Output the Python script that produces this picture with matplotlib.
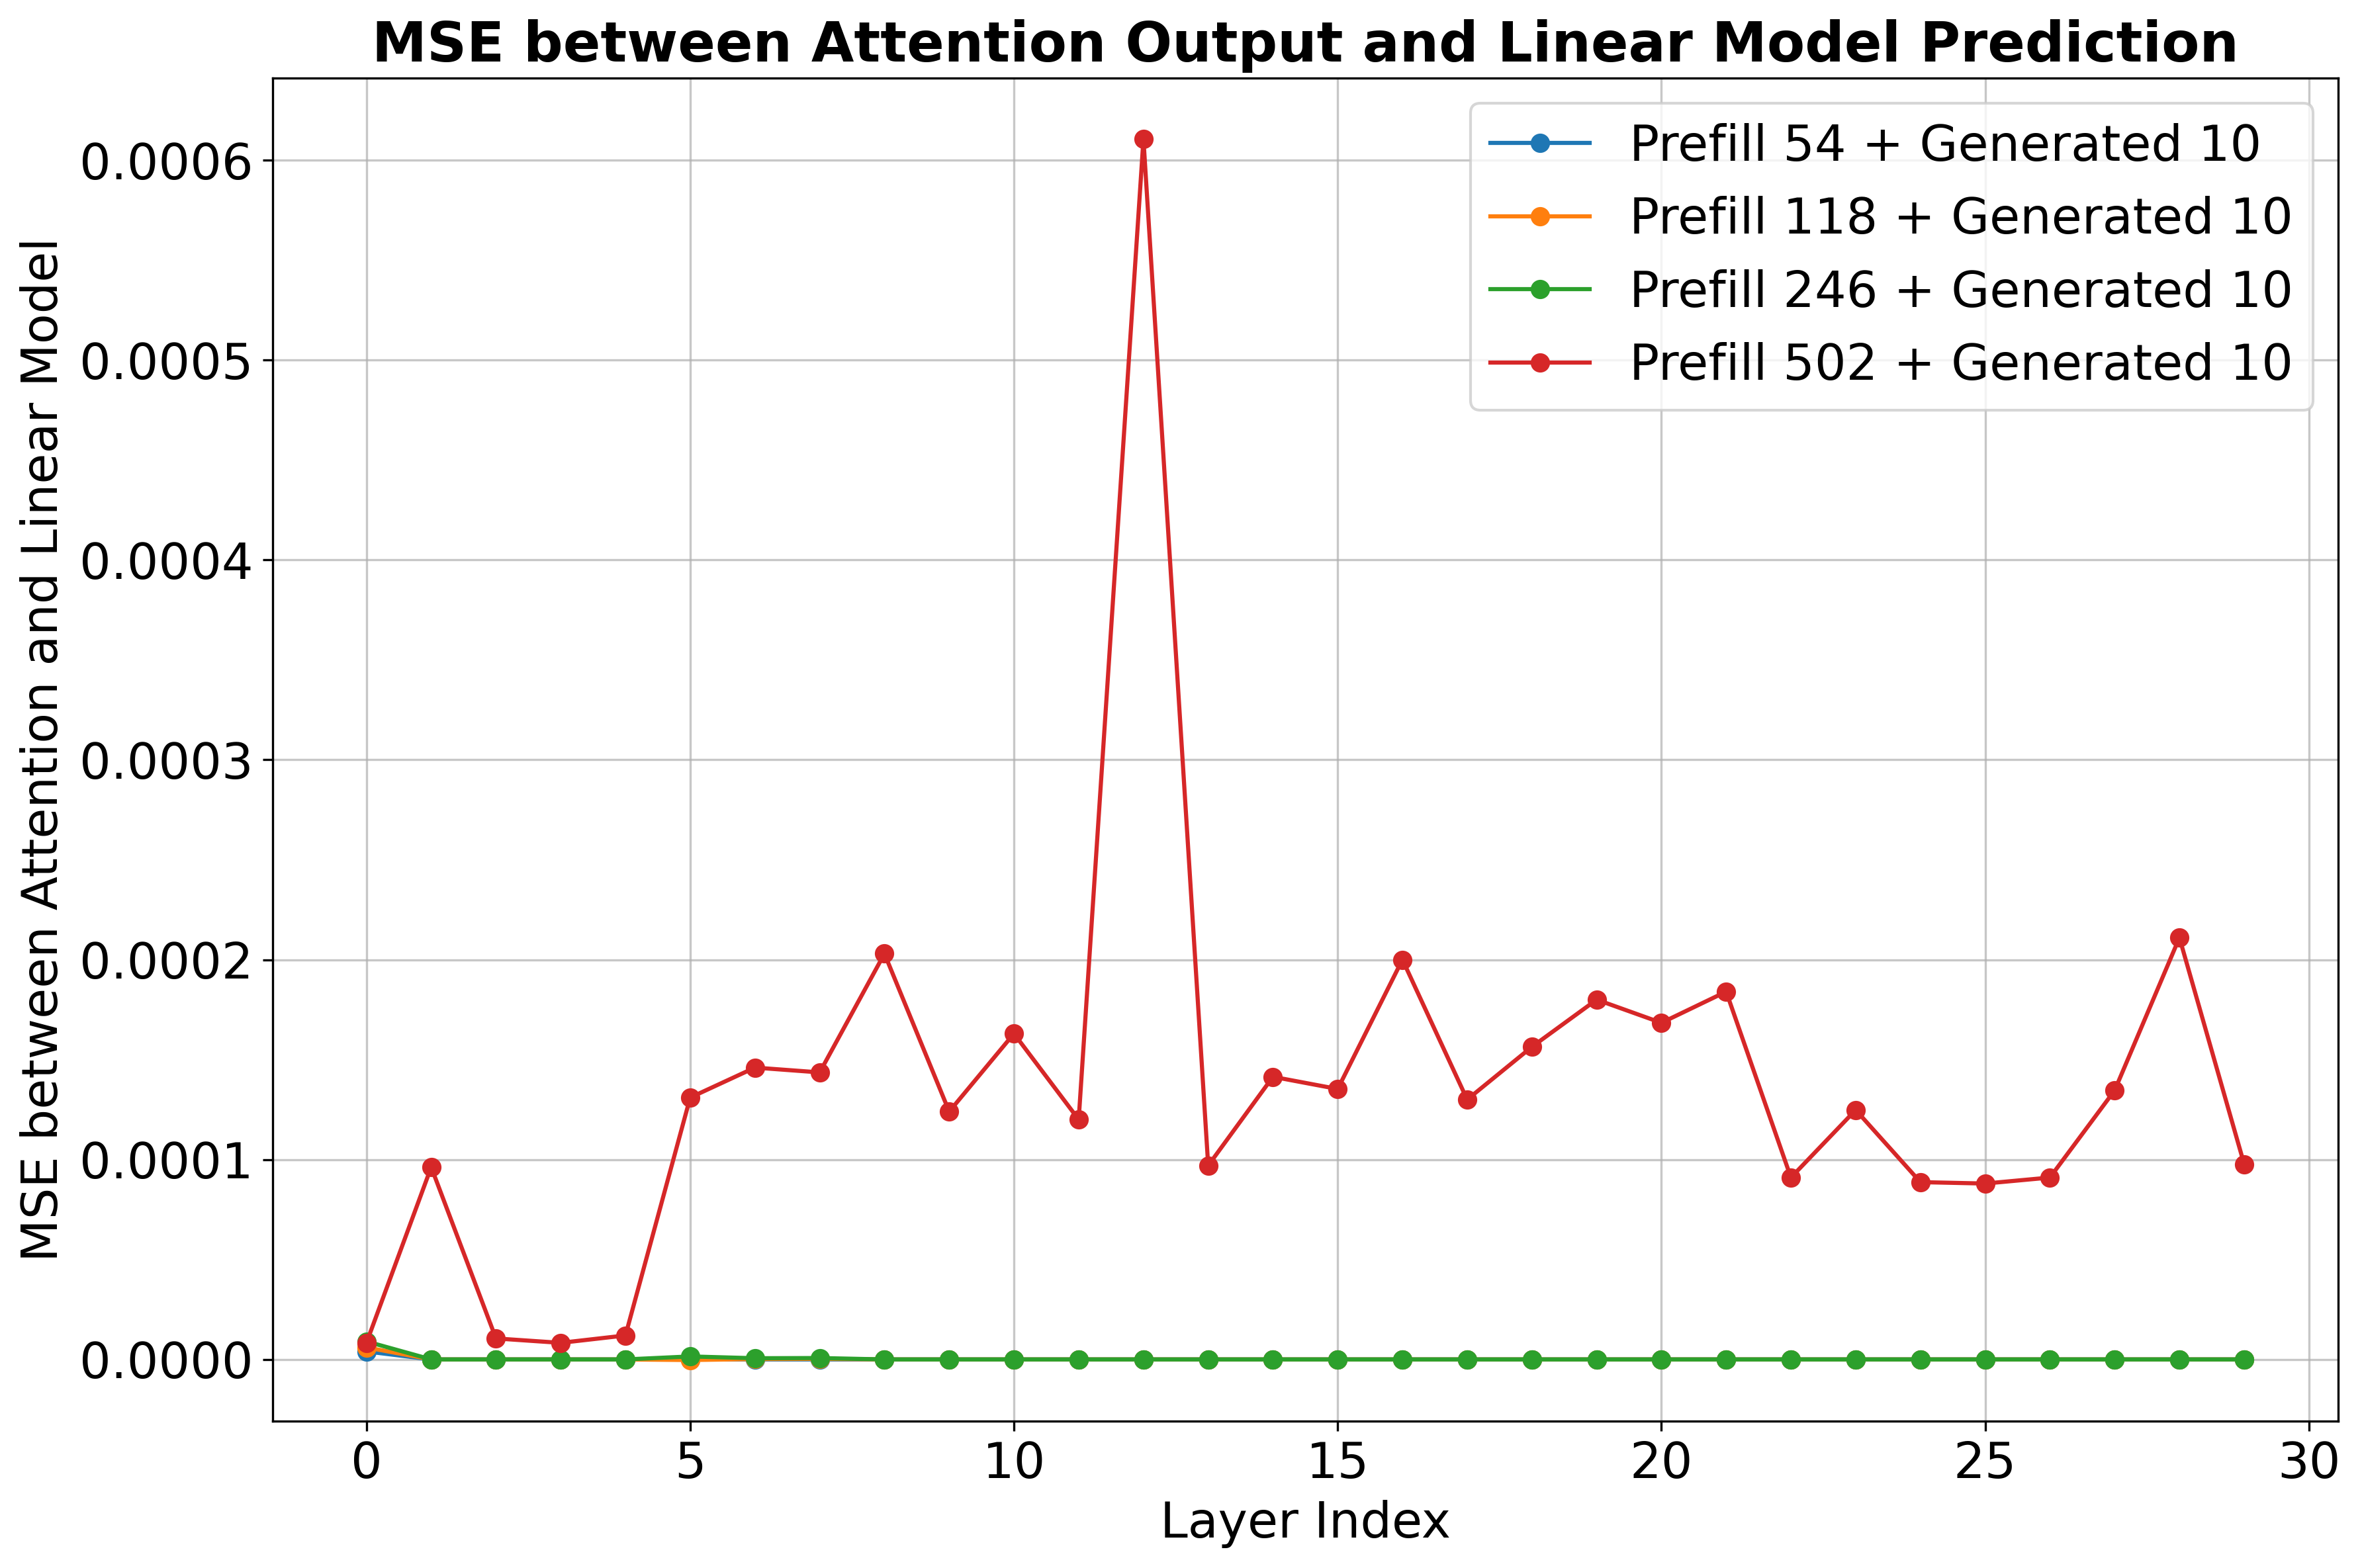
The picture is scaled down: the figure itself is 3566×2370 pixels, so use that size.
import numpy as np
import matplotlib.pyplot as plt

layers = list(range(30))

# MSE per layer for each prefill length
mse_54 = [0.0000040] + [0.0] * 29
mse_118 = [0.0000060, 0.0, 0.0, 0.0, 0.0, -0.0000003, 0.0000002, 0.0000003] + [0.0] * 22
mse_246 = [0.0000090, 0.0, 0.0, 0.0, 0.0, 0.0000015, 0.0000006, 0.0000007] + [0.0] * 22
mse_502 = [0.0000083, 0.0000962, 0.0000105, 0.0000083, 0.0000120, 0.000131,
           0.000146, 0.0001436, 0.000203, 0.000124, 0.000163, 0.000120,
           0.0006105, 0.0000970, 0.0001414, 0.0001353, 0.000200, 0.000130,
           0.0001564, 0.000180, 0.0001684, 0.000184, 0.0000910, 0.0001248,
           0.0000887, 0.0000880, 0.0000910, 0.0001346, 0.000211, 0.0000977]

series = [(54, mse_54), (118, mse_118), (246, mse_246), (502, mse_502)]

plt.rcParams['font.size'] = 18
fig = plt.figure(figsize=(3566 / 300., 2370 / 300.))
fig.subplots_adjust(left=0.1155, right=0.9907, top=0.9502, bottom=0.0937)

for prefill, vals in series:
    plt.plot(layers, vals, marker='o', label="Prefill %d + Generated 10" % prefill)

plt.xlabel("Layer Index")
plt.ylabel("MSE between Attention and Linear Model")
plt.title("MSE between Attention Output and Linear Model Prediction", fontsize=20, fontweight='bold')
plt.legend(loc='upper right')
plt.grid(True, alpha=0.7)
fig.savefig('out.png', dpi=300)
